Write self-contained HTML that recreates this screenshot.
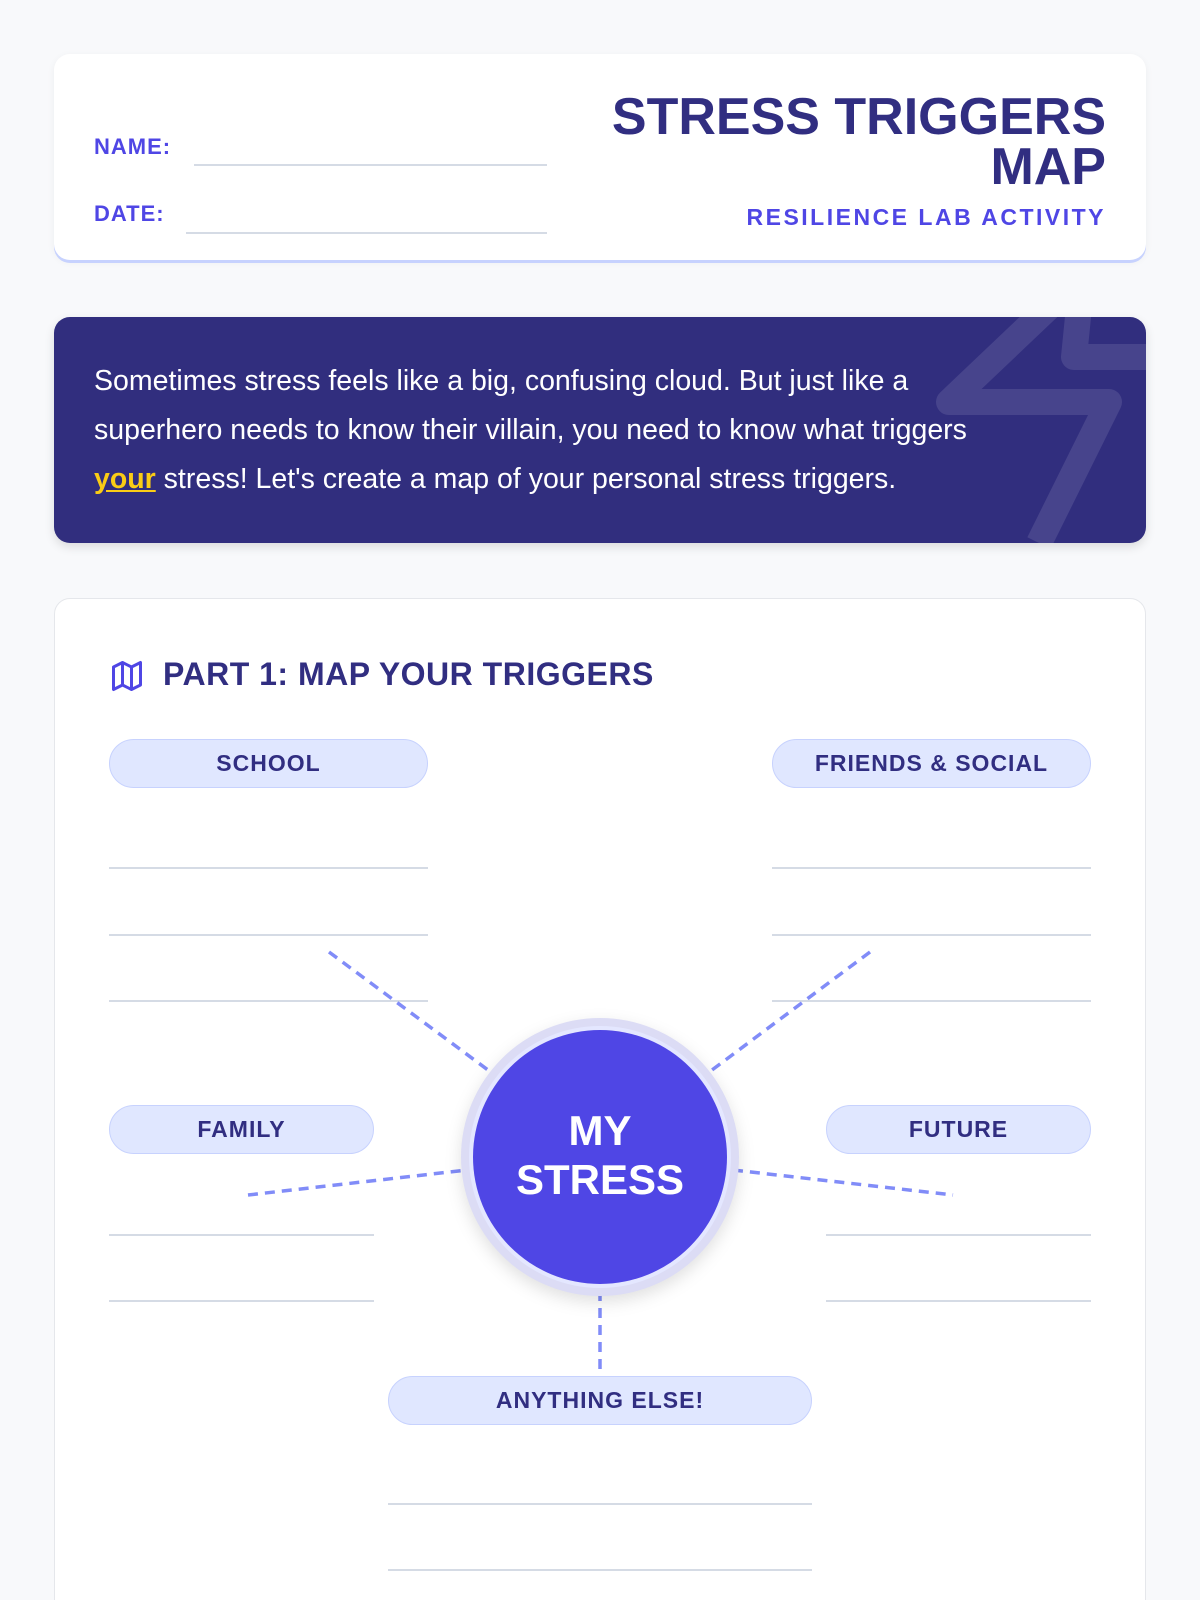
<!DOCTYPE html>
<html><head><meta charset="utf-8"><style>
*{box-sizing:border-box;margin:0;padding:0}
html,body{width:1200px;height:1600px;overflow:hidden}
body{background:#f8f9fb;font-family:"Liberation Sans",sans-serif}
#wrap{position:relative;width:1200px;height:1600px;overflow:hidden}
.abs{position:absolute}
.card{position:absolute;background:#fff;border-radius:16px}
.lbl{position:absolute;color:#4f46e5;font-weight:bold;font-size:22px;letter-spacing:1px}
.line{position:absolute;height:2px;background:#d5dbe5}
.pill{position:absolute;height:49px;border-radius:25px;background:#e0e7ff;border:1.5px solid #c7d2fe;color:#312e81;font-weight:bold;font-size:23px;letter-spacing:1px;display:flex;align-items:center;justify-content:center}
</style></head><body><div id="wrap">
<div class="card" style="left:54px;top:54px;width:1092px;height:206px;box-shadow:0 3px 0 #c7d2fe,0 2px 8px rgba(0,0,0,.05)"></div>
<div class="lbl" style="left:94px;top:134px">NAME:</div>
<div class="line" style="left:194px;top:164px;width:353px"></div>
<div class="lbl" style="left:94px;top:201px">DATE:</div>
<div class="line" style="left:186px;top:232px;width:361px"></div>
<div class="abs" style="right:94px;top:92px;text-align:right;color:#312e81;font-weight:900;font-size:52px;line-height:50px;white-space:nowrap">STRESS TRIGGERS<br>MAP</div>
<div class="abs" style="right:94px;top:204px;color:#4f46e5;font-weight:bold;font-size:23px;letter-spacing:2.5px">RESILIENCE LAB ACTIVITY</div>

<div class="card" style="left:54px;top:317px;width:1092px;height:226px;background:#312e7e;overflow:hidden;box-shadow:0 4px 10px rgba(0,0,0,.12)">
<svg class="abs" style="left:0;top:0" width="1092" height="226"><path d="M995 -10 L895 85 L1055 85 L985 226" fill="none" stroke="rgba(255,255,255,.11)" stroke-width="26" stroke-linejoin="round"/><path d="M1025 -10 L1020 40 L1100 40" fill="none" stroke="rgba(255,255,255,.11)" stroke-width="26" stroke-linejoin="round"/></svg>
</div>
<div class="abs" style="left:94px;top:357px;white-space:nowrap;color:#fff;font-size:28.5px;line-height:49px">Sometimes stress feels like a big, confusing cloud. But just like a<br>superhero needs to know their villain, you need to know what triggers<br><span style="color:#facc15;font-weight:bold;text-decoration:underline">your</span> stress! Let's create a map of your personal stress triggers.</div>

<div class="card" style="left:54px;top:598px;width:1092px;height:1100px;border:1.5px solid #e5e7eb"></div>
<svg class="abs" style="left:109px;top:658px" width="36" height="36" viewBox="0 0 24 24" fill="none" stroke="#4f46e5" stroke-width="2" stroke-linejoin="round"><path d="M3 6l6-3 6 3 6-3v15l-6 3-6-3-6 3z M9 3v15 M15 6v15"/></svg>
<div class="abs" style="left:163px;top:656px;color:#312e81;font-weight:bold;font-size:32px;letter-spacing:.5px">PART 1: MAP YOUR TRIGGERS</div>

<div class="pill" style="left:109px;top:739px;width:319px">SCHOOL</div>
<div class="pill" style="left:772px;top:739px;width:319px">FRIENDS &amp; SOCIAL</div>
<div class="line" style="left:109px;top:867px;width:319px"></div>
<div class="line" style="left:109px;top:934px;width:319px"></div>
<div class="line" style="left:109px;top:1000px;width:319px"></div>
<div class="line" style="left:772px;top:867px;width:319px"></div>
<div class="line" style="left:772px;top:934px;width:319px"></div>
<div class="line" style="left:772px;top:1000px;width:319px"></div>
<div class="pill" style="left:109px;top:1105px;width:265px">FAMILY</div>
<div class="pill" style="left:826px;top:1105px;width:265px">FUTURE</div>
<div class="line" style="left:109px;top:1234px;width:265px"></div>
<div class="line" style="left:109px;top:1300px;width:265px"></div>
<div class="line" style="left:826px;top:1234px;width:265px"></div>
<div class="line" style="left:826px;top:1300px;width:265px"></div>
<div class="pill" style="left:388px;top:1376px;width:424px">ANYTHING ELSE!</div>
<div class="line" style="left:388px;top:1503px;width:424px"></div>
<div class="line" style="left:388px;top:1569px;width:424px"></div>

<svg class="abs" style="left:0;top:0" width="1200" height="1600">
<g stroke="#818cf8" stroke-width="3.5" stroke-dasharray="10 7" fill="none">
<line x1="329" y1="952" x2="492" y2="1073"/>
<line x1="870" y1="952" x2="708" y2="1073"/>
<line x1="248" y1="1195" x2="467" y2="1170"/>
<line x1="733" y1="1170" x2="953" y2="1195"/>
<line x1="600" y1="1291" x2="600" y2="1373"/>
</g>
<circle cx="600" cy="1157" r="139" fill="#dcdcf5" style="filter:drop-shadow(0 6px 8px rgba(0,0,0,.12))"/>
<circle cx="600" cy="1157" r="131" fill="#e4e7ff"/>
<circle cx="600" cy="1157" r="127" fill="#4f46e5"/>
<text x="600" y="1145" text-anchor="middle" fill="#fff" font-family="Liberation Sans" font-weight="900" font-size="42">MY</text>
<text x="600" y="1194" text-anchor="middle" fill="#fff" font-family="Liberation Sans" font-weight="900" font-size="42">STRESS</text>
</svg>
</div></body></html>
